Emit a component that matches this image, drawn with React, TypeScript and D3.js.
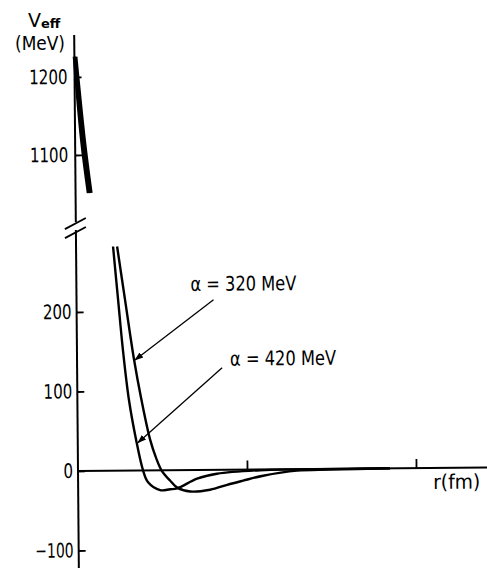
import * as d3 from "d3";
import { useEffect, useRef } from "react";

// r in fm, V_eff in MeV
const r420 = [0.0, 0.039, 0.076, 0.219, 0.246, 0.272, 0.305, 0.345, 0.385, 0.414, 0.485, 0.544, 0.586, 0.704, 0.822, 1.077, 1.31, 1.846];
const v420 = [1226, 1119, 1051, 282, 215, 152, 89, 39, 0, -15, -25, -24, -23, -11, -5, -1, -0.5, 0];
const r320 = [0.008, 0.054, 0.091, 0.243, 0.287, 0.337, 0.379, 0.428, 0.462, 0.494, 0.544, 0.586, 0.663, 0.781, 0.882, 0.976, 1.095, 1.296, 1.49, 1.846];
const v320 = [1226, 1119, 1051, 282, 215, 140, 89, 39, 16, 0, -13, -22, -27, -25, -19, -14, -8, -2, -1, 0];

const upperTicks = [1100, 1200];
const lowerTicks = [-100, 0, 100, 200];
const xTicks = [1, 2];
const curveLabels = ["α = 320 MeV", "α = 420 MeV"];

const font = "'DejaVu Sans', sans-serif";

export default function App() {
  const ref = useRef<SVGSVGElement>(null);

  useEffect(() => {
    const svg = d3.select(ref.current);
    svg.selectAll("*").remove();

    const x = d3.scaleLinear().domain([0, 2.42]).range([78, 487]);
    const yUp = d3.scaleLinear().domain([1100, 1200]).range([155, 77]);
    const yLow = d3.scaleLinear().domain([0, 200]).range([471, 312]);

    const defs = svg.append("defs");
    defs.append("marker")
      .attr("id", "arr")
      .attr("viewBox", "0 0 10 10")
      .attr("refX", 9).attr("refY", 5)
      .attr("markerWidth", 9).attr("markerHeight", 9)
      .attr("markerUnits", "userSpaceOnUse")
      .attr("orient", "auto")
      .append("path").attr("d", "M0,1.5L10,5L0,8.5Z").attr("fill", "#000");

    // slight scan tilt of the original
    const g = svg.append("g").attr("transform", "rotate(-0.5," + x(0) + "," + yLow(0) + ")");

    const narrow = (sel: any, perChar: number) =>
      sel.attr("textLength", function (this: SVGTextElement) { return (this.textContent || "").length * perChar; })
        .attr("lengthAdjust", "spacingAndGlyphs");

    // upper axis segment
    const upAxis = g.append("g").attr("transform", "translate(" + x(0) + ",0)")
      .call(d3.axisLeft(yUp).tickValues(upperTicks).tickSize(-7).tickPadding(7).tickFormat(d3.format("d")));
    upAxis.select(".domain").remove();
    g.append("line").attr("x1", x(0)).attr("x2", x(0)).attr("y1", 35).attr("y2", 222)
      .attr("stroke", "#000").attr("stroke-width", 2);

    // lower axis segment
    const lowAxis = g.append("g").attr("transform", "translate(" + x(0) + ",0)")
      .call(d3.axisLeft(yLow).tickValues(lowerTicks).tickSize(-7).tickPadding(5).tickFormat(d => d3.format("d")(d as number).replace("-", "\u2013")));
    lowAxis.select(".domain").remove();
    g.append("line").attr("x1", x(0)).attr("x2", x(0)).attr("y1", 230).attr("y2", 575)
      .attr("stroke", "#000").attr("stroke-width", 2);

    [upAxis, lowAxis].forEach(a => {
      a.selectAll(".tick line").attr("stroke", "#000").attr("stroke-width", 1.8);
      const t = a.selectAll(".tick text").attr("font-family", font).attr("font-size", 20).attr("fill", "#000");
      narrow(t, 9.6);
    });

    // axis break marks
    [0, 9].forEach(dy => {
      g.append("line")
        .attr("x1", x(0) - 11).attr("y1", 229 + dy)
        .attr("x2", x(0) + 10).attr("y2", 218 + dy)
        .attr("stroke", "#000").attr("stroke-width", 1.8);
    });

    // x axis
    const xAxis = g.append("g").attr("transform", "translate(0," + yLow(0) + ")")
      .call(d3.axisTop(x).tickValues(xTicks).tickSize(9).tickFormat(() => ""));
    xAxis.select(".domain").remove();
    xAxis.selectAll(".tick line").attr("stroke", "#000").attr("stroke-width", 1.8);
    g.append("line").attr("x1", x(0)).attr("x2", 500).attr("y1", yLow(0)).attr("y2", yLow(0))
      .attr("stroke", "#000").attr("stroke-width", 2);

    // curves
    const curves = [
      { r: r420, v: v420 },
      { r: r320, v: v320 },
    ];
    curves.forEach(c => {
      const pts = c.r.map((r, i) => ({ r, v: c.v[i] }));
      const up = pts.filter(p => p.v > 1000);
      const low = pts.filter(p => p.v < 400);
      g.append("path")
        .attr("d", d3.line<any>().x(p => x(p.r)).y(p => yUp(p.v)).curve(d3.curveCatmullRom.alpha(0.5))(up))
        .attr("fill", "none").attr("stroke", "#000").attr("stroke-width", 3.4);
      g.append("path")
        .attr("d", d3.line<any>().x(p => x(p.r)).y(p => yLow(p.v)).curve(d3.curveCatmullRom.alpha(0.5))(low))
        .attr("fill", "none").attr("stroke", "#000").attr("stroke-width", 2.4);
    });

    // labels with arrows
    const notes = [
      { text: curveLabels[0], tx: 192, ty: 292, x1: 215, y1: 301, x2: x(0.343), y2: yLow(139) },
      { text: curveLabels[1], tx: 231, ty: 367, x1: 223, y1: 369, x2: x(0.356), y2: yLow(35) },
    ];
    notes.forEach(n => {
      g.append("text").attr("x", n.tx).attr("y", n.ty).text(n.text)
        .attr("font-family", font).attr("font-size", 20).attr("fill", "#000")
        .attr("textLength", 106).attr("lengthAdjust", "spacingAndGlyphs");
      g.append("line").attr("x1", n.x1).attr("y1", n.y1).attr("x2", n.x2).attr("y2", n.y2)
        .attr("stroke", "#000").attr("stroke-width", 1.3).attr("marker-end", "url(#arr)");
    });

    g.append("text").attr("x", 433).attr("y", 492).text("r(fm)")
      .attr("font-family", font).attr("font-size", 20).attr("fill", "#000")
      .attr("textLength", 47).attr("lengthAdjust", "spacingAndGlyphs");

    // y label
    const yl = svg.append("text").attr("x", 28).attr("y", 27)
      .attr("font-family", font).attr("font-size", 19).attr("fill", "#000");
    yl.append("tspan").text("V");
    yl.append("tspan").attr("font-size", 13).attr("dy", 1).attr("font-weight", "bold").text("eff");
    svg.append("text").attr("x", 15).attr("y", 50).text("(MeV)")
      .attr("font-family", font).attr("font-size", 19).attr("fill", "#000")
      .attr("textLength", 50).attr("lengthAdjust", "spacingAndGlyphs");
  }, []);

  return (
    <div style={{ position: "absolute", left: 0, top: 0 }}>
      <svg ref={ref} width={487} height={568} style={{ display: "block", background: "#fff" }} />
    </div>
  );
}
